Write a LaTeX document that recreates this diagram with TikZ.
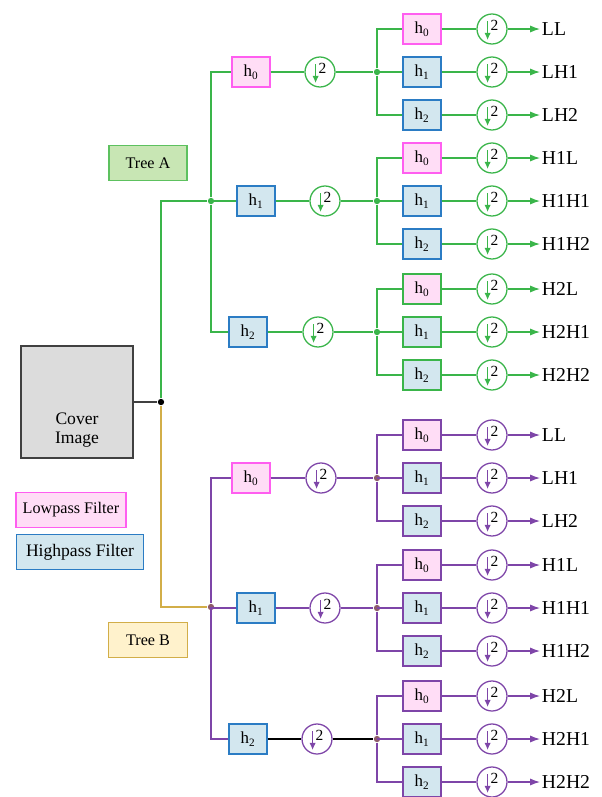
\documentclass[tikz,border=0pt]{standalone}
\usepackage{fontspec}
\setmainfont{Liberation Serif}
\usepackage{xcolor}
\usetikzlibrary{positioning, arrows.meta}

\definecolor{treeA}{HTML}{3AB54A}
\definecolor{treeB}{HTML}{7E45A8}
\definecolor{treeBdot}{HTML}{8E5C6A}
\definecolor{treeAfill}{HTML}{C8E6B4}
\definecolor{treeAline}{HTML}{5DC15F}
\definecolor{treeBfill}{HTML}{FFF2CC}
\definecolor{treeBline}{HTML}{D2AE48}
\definecolor{lowfill}{HTML}{FFDDF6}
\definecolor{lowline}{HTML}{FF5EF0}
\definecolor{highfill}{HTML}{D3E7EF}
\definecolor{highline}{HTML}{2B7CC4}
\definecolor{coverfill}{HTML}{DCDCDC}
\definecolor{coverline}{HTML}{404040}
% rim colours of the second-level filters
\colorlet{stdlow}{lowline}
\colorlet{stdhigh}{highline}
\colorlet{Alow}{treeA}
\colorlet{Ahigh}{treeA}
\colorlet{Blow}{treeB}
\colorlet{Bhigh}{treeB}

\tikzset{
  filt/.style={minimum width=0.95cm, minimum height=0.75cm, inner sep=0pt,
    line width=1pt, font=\fontsize{12}{14}\selectfont},
  box/.style={filt, draw=#1line, fill=#1fill},
  legbox/.style={minimum height=0.88cm, inner sep=0pt, line width=1pt,
    font=\fontsize{11.5}{13}\selectfont},
  coverbox/.style={draw=coverline, fill=coverfill, line width=1pt,
    minimum size=2.8cm, inner sep=0pt},
  dsamp/.style={circle, draw=#1, fill=white, minimum size=0.75cm, inner sep=0pt,
    line width=0.9pt,
    path picture={
      \draw[#1, line width=0.6pt, -{Latex[length=5pt,width=4.5pt]}]
        ([shift={(-0.11cm,0.2cm)}]path picture bounding box.center) --
        ([shift={(-0.11cm,-0.27cm)}]path picture bounding box.center);
      \node[font=\fontsize{11}{11}\selectfont, inner sep=0pt]
        at ([shift={(0.06cm,0.08cm)}]path picture bounding box.center) {2};
    }},
  junc/.style={circle, fill=#1, inner sep=0pt, minimum size=4.5pt},
  band/.style={anchor=west, inner sep=1pt, font=\fontsize{14}{16}\selectfont}
}

\begin{document}
\begin{tikzpicture}[x=0.025cm, y=-0.025cm, line width=0.8pt]
  \useasboundingbox (0,0) rectangle (601,797);

  % legend
  \node[legbox, draw=treeAline, fill=treeAfill, minimum width=1.95cm] (legA) at (148,163) {Tree A};
  \node[legbox, draw=treeBline, fill=treeBfill, minimum width=1.97cm] (legB) at (148,640) {Tree B};
  \node[legbox, draw=lowline, fill=lowfill, minimum width=2.75cm] (leglow) at (71,510) {Lowpass Filter};
  \node[legbox, draw=highline, fill=highfill, minimum width=3.18cm,
        font=\fontsize{12.5}{14}\selectfont] (leghigh) at (80,552) {Highpass Filter};

  % input image and the split into two trees
  \node[coverbox, label={[font=\fontsize{12.5}{14}\selectfont, align=center, yshift=-0.7cm]center:Cover\\Image}] (cover) at (77,402) {};
  \node[junc=black] (root) at (161,402) {};
  \node[junc=treeA] (jA) at (211,201) {};
  \node[junc=treeBdot] (jB) at (211,607) {};
  \draw[coverline] (cover) -- (root);
  \draw[treeA] (root) |- (jA);
  \draw[treeBline] (root) |- (jB);

  % tree A
  \foreach \g/\gy/\bx/\dx/\kind/\pre/\rim in
      {0/72/251/320/low/L/std, 1/201/256/325/high/H1/std, 2/332/248/318/high/H2/A} {
    \node[box=\kind] (A\g) at (\bx,\gy) {h\textsubscript{\g}};
    \node[dsamp=treeA] (dA\g) at (\dx,\gy) {};
    \node[junc=treeA] (jA\g) at (377,\gy) {};
    \draw[treeA] (jA) |- (A\g) (A\g) -- (dA\g) -- (jA\g);
    \foreach \k/\kk/\suf in {0/low/L, 1/high/H1, 2/high/H2} {
      \pgfmathsetmacro\cy{\gy+(\k-1)*43}
      \node[box=\kk, draw=\rim\kk] (A\g\k) at (422,\cy) {h\textsubscript{\k}};
      \node[dsamp=treeA] (dA\g\k) at (492,\cy) {};
      \node[band] (oA\g\k) at (540,\cy) {\pre\suf};
      \draw[treeA] (jA\g) |- (A\g\k) (A\g\k) -- (dA\g\k);
      \draw[treeA, -{Latex[length=7pt,width=5pt]}] (dA\g\k) -- (oA\g\k);
    }
  }

  % tree B
  \foreach \g/\gy/\bx/\dx/\kind/\pre/\lc in
      {0/478/251/321/low/L/treeB, 1/608/256/325/high/H1/treeB, 2/739/248/317/high/H2/black} {
    \node[box=\kind] (B\g) at (\bx,\gy) {h\textsubscript{\g}};
    \node[dsamp=treeB] (dB\g) at (\dx,\gy) {};
    \node[junc=treeBdot] (jB\g) at (377,\gy) {};
    \draw[treeB] (jB) |- (B\g);
    \draw[\lc] (B\g) -- (dB\g) -- (jB\g);
    \foreach \k/\kk/\suf in {0/low/L, 1/high/H1, 2/high/H2} {
      \pgfmathsetmacro\cy{\gy+(\k-1)*43}
      \node[box=\kk, draw=B\kk] (B\g\k) at (422,\cy) {h\textsubscript{\k}};
      \node[dsamp=treeB] (dB\g\k) at (492,\cy) {};
      \node[band] (oB\g\k) at (540,\cy) {\pre\suf};
      \draw[treeB] (jB\g) |- (B\g\k) (B\g\k) -- (dB\g\k);
      \draw[treeB, -{Latex[length=7pt,width=5pt]}] (dB\g\k) -- (oB\g\k);
    }
  }
\end{tikzpicture}
\end{document}
